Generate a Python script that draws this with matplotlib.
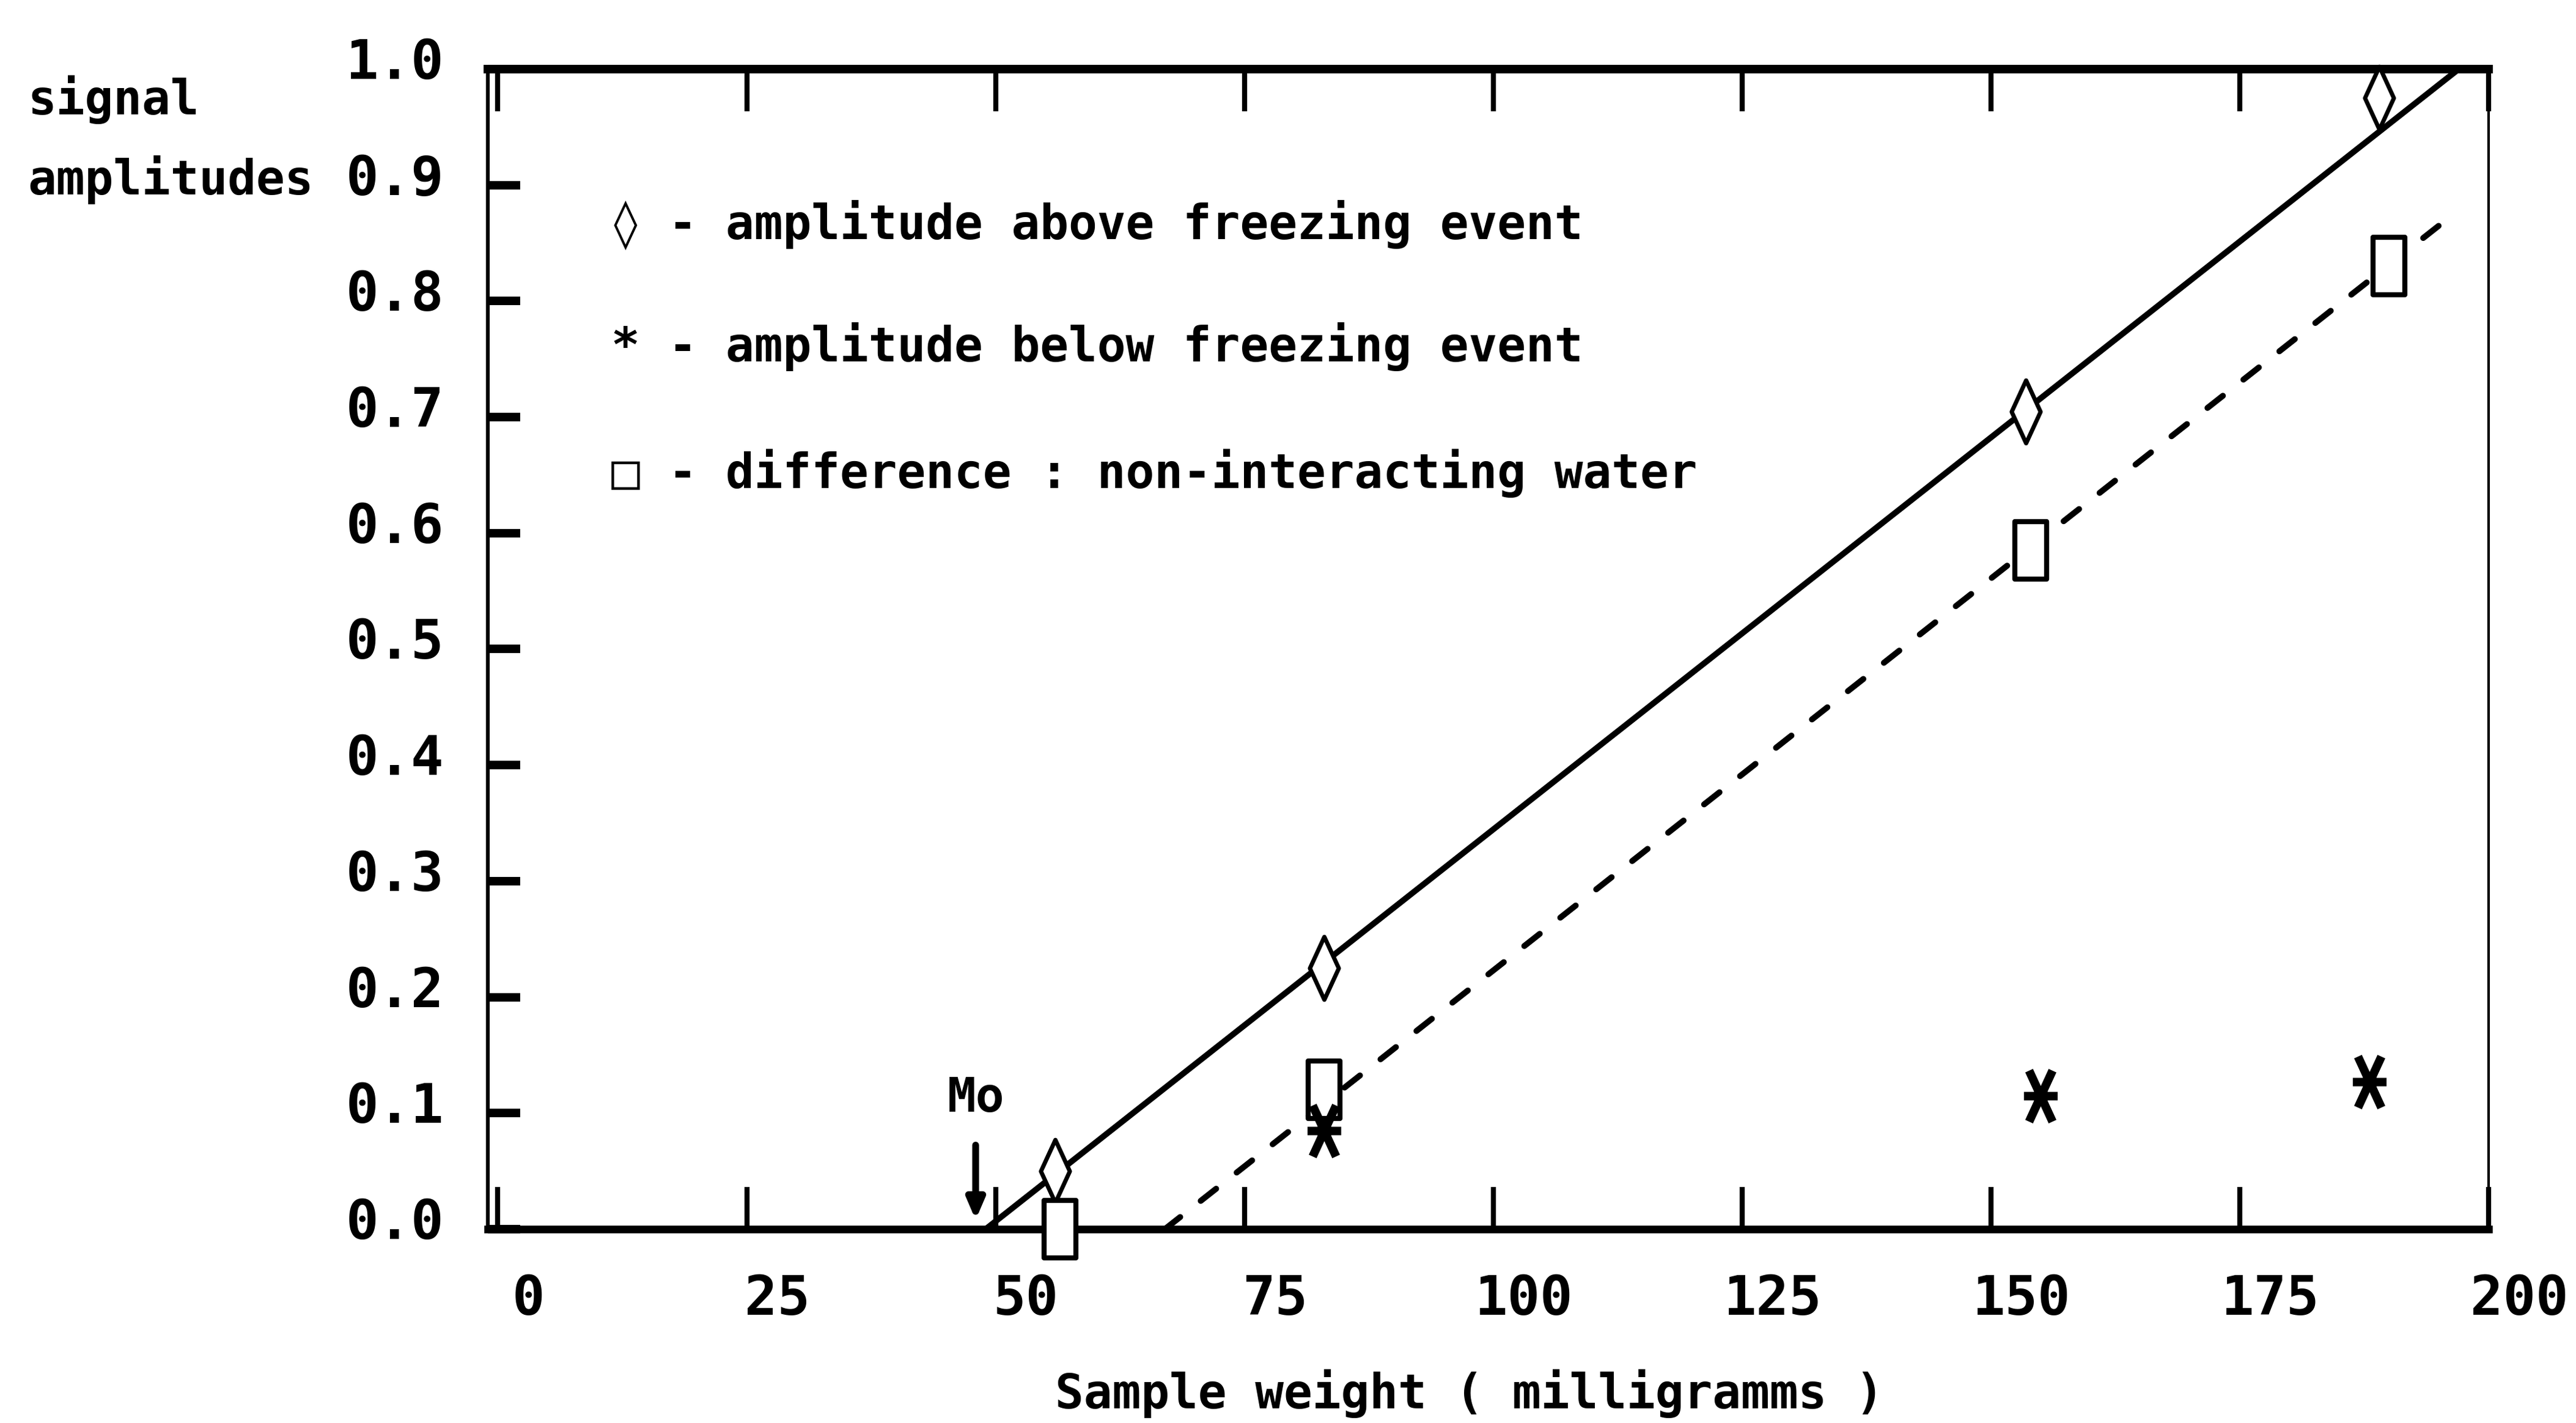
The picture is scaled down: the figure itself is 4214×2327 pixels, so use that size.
import matplotlib
matplotlib.use("Agg")
import matplotlib.pyplot as plt
import numpy as np
from matplotlib.path import Path
from matplotlib.transforms import ScaledTranslation

# sample weight (mg) vs. signal amplitudes
weight_above = [56, 83, 153.5, 189]
amp_above = [0.05, 0.225, 0.705, 0.975]

weight_below = [83, 155, 188]
amp_below = [0.085, 0.115, 0.127]

weight_diff = [56.5, 83, 154, 190]
amp_diff = [0.0, 0.12, 0.585, 0.83]

# straight lines through the points
line_above_x = [49, 197]
line_above_y = [0.0, 1.0]
line_diff_x = [67, 195]
line_diff_y = [0.0, 0.865]

mo_weight = 48

x_ticks = [0, 25, 50, 75, 100, 125, 150, 175, 200]
y_ticks = [0.0, 0.1, 0.2, 0.3, 0.4, 0.5, 0.6, 0.7, 0.8, 0.9, 1.0]
y_tick_labels = ["0.0", "0.1", "0.2", "0.3", "0.4", "0.5", "0.6", "0.7", "0.8", "0.9", "1.0"]

legend_rows = ["\u25ca - amplitude above freezing event",
               "* - amplitude below freezing event",
               "\u25a1 - difference : non-interacting water"]

plt.rcParams["font.family"] = ["DejaVu Sans Mono", "DejaVu Sans"]
plt.rcParams["font.weight"] = "bold"

fig = plt.figure(figsize=(42.14, 23.27), dpi=100)
ax = fig.add_axes([0.1894, 0.1362, 0.7767, 0.8153])

# tall, narrow marker shapes
diamond = Path([(0, 1), (0.46, 0), (0, -1), (-0.46, 0), (0, 1)], closed=True)
rect = Path([(-0.55, -1), (0.55, -1), (0.55, 1), (-0.55, 1), (-0.55, -1)], closed=True)
star = Path([(-0.66, 0), (0.66, 0), (-0.46, -1), (0.46, 1), (0.46, -1), (-0.46, 1)],
            [Path.MOVETO, Path.LINETO] * 3)

ax.plot(line_above_x, line_above_y, color="black", lw=7, zorder=2)
ax.plot(line_diff_x, line_diff_y, color="black", lw=7,
        linestyle=(0, (3.3, 4.4)), dash_capstyle="round", zorder=2)

ax.plot(weight_above, amp_above, linestyle="none", marker=diamond, ms=74,
        mfc="white", mec="black", mew=5, zorder=3, clip_on=False)
ax.plot(weight_diff, amp_diff, linestyle="none", marker=rect, ms=68,
        mfc="white", mec="black", mew=6, zorder=3, clip_on=False)
ax.plot(weight_below, amp_below, linestyle="none", marker=star, ms=60,
        mfc="none", mec="black", mew=10, zorder=3)

ax.annotate("Mo", xy=(mo_weight, 0.008), xytext=(mo_weight, 0.113),
            ha="center", va="center", fontsize=56,
            arrowprops=dict(arrowstyle="-|>,head_length=0.35,head_width=0.15",
                            color="black", lw=8, shrinkA=26, shrinkB=0))

ax.set_xlim(-1, 200)
ax.set_ylim(0, 1.0)
ax.set_xticks(x_ticks)
ax.set_yticks(y_ticks)
ax.set_yticklabels(y_tick_labels)

ax.tick_params(axis="x", direction="in", top=True, bottom=True, length=50,
               width=6, labelsize=64, pad=52)
ax.tick_params(axis="y", direction="in", left=True, right=False, length=38,
               width=10, labelsize=64, pad=52)

ax.spines["top"].set_linewidth(10)
ax.spines["bottom"].set_linewidth(9)
ax.spines["left"].set_linewidth(4.5)
ax.spines["right"].set_linewidth(3)

# labels sit a little off their ticks
x_shift = ScaledTranslation(0.5, 0, fig.dpi_scale_trans)
for lab in ax.get_xticklabels():
    lab.set_transform(lab.get_transform() + x_shift)
y_shift = ScaledTranslation(0, 0.18, fig.dpi_scale_trans)
for lab in ax.get_yticklabels():
    lab.set_transform(lab.get_transform() + y_shift)

fig.text(0.0107, 0.9195, "signal", ha="left", va="baseline", fontsize=56)
fig.text(0.0107, 0.8635, "amplitudes", ha="left", va="baseline", fontsize=56)

for row, yy in zip(legend_rows, [0.8419, 0.7563, 0.6674]):
    fig.text(0.2373, yy, row, ha="left", va="center", fontsize=56)

fig.text(0.5705, 0.0206, "Sample weight ( milligramms )", ha="center",
         va="center", fontsize=56)

fig.savefig("out.png", dpi=100, facecolor="white")
